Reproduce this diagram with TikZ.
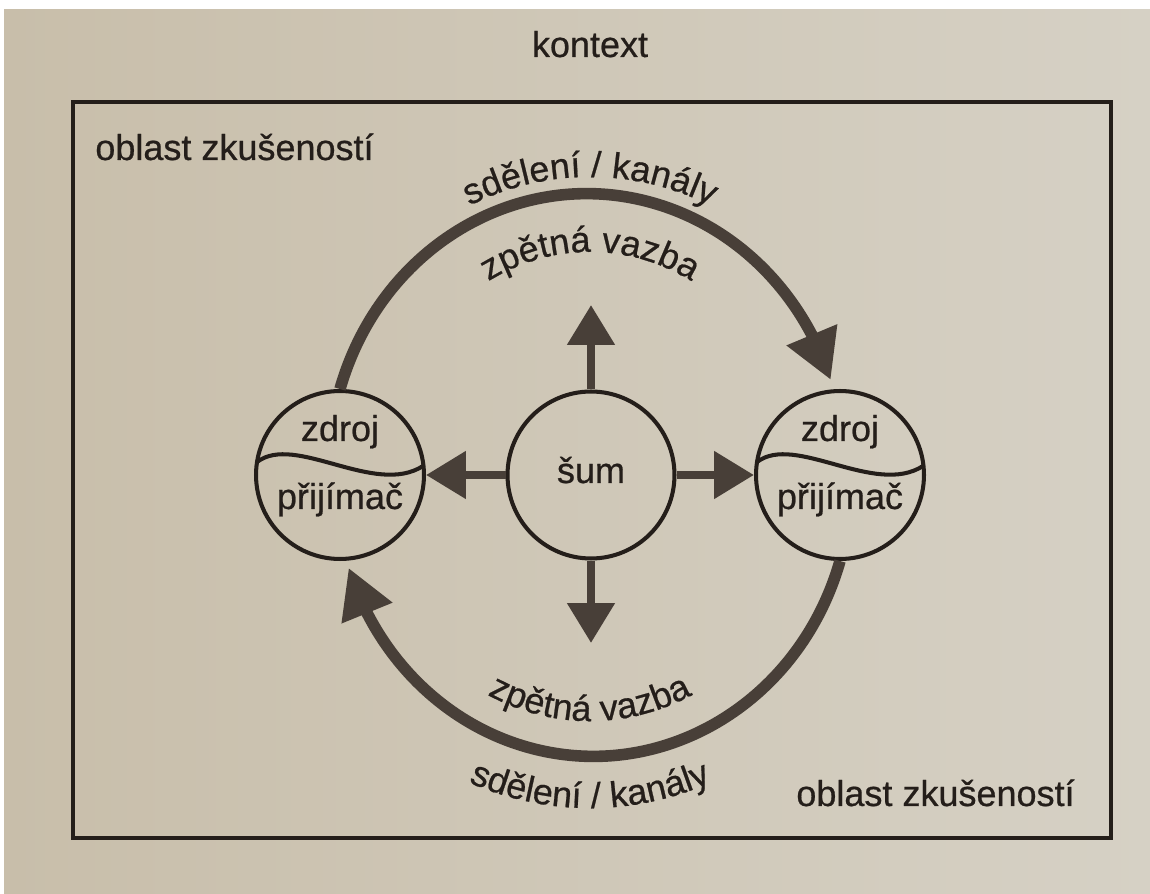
\documentclass[tikz,border=0pt]{standalone}
\usepackage{fontspec}
\setmainfont{Liberation Sans}
\newfontfamily\heavysans{Liberation Sans}[FakeBold=0.6]
\usetikzlibrary{arrows.meta,bending,decorations.text,calc}
\definecolor{paperL}{RGB}{200,190,170}
\definecolor{paperR}{RGB}{214,209,197}
\definecolor{ink}{RGB}{36,30,26}
\definecolor{halftone}{RGB}{72,63,56}
\newcommand\dfont{\heavysans\fontsize{20.5pt}{24pt}\selectfont}
\begin{document}
\begin{tikzpicture}[x=0.02cm,y=0.02cm,
  lbl/.style={font=\dfont, text=ink, inner sep=0pt},
  ring/.style={circle, draw=ink, line width=2.3pt, minimum size=3.36cm, inner sep=0pt},
  wave/.style={draw=ink, line width=2.3pt},
  frame/.style={draw=ink, line width=2.55pt},
  bigarc/.style={draw=halftone, line width=6.6pt, -{Triangle[length=27.8pt,width=29.5pt,flex]}},
  noise/.style={draw=halftone, line width=5pt, -{Triangle[length=22.7pt,width=26pt]}},
  arctext/.style={decorate, decoration={text along path, text align=center, text color=ink}}
]
% background
\fill[white] (0,0) rectangle (1150,893);
\shade[left color=paperL, right color=paperR] (4,0) rectangle (1150,883);
\useasboundingbox (0,0) rectangle (1150,893);

% frame
\draw[frame] (73,55) rectangle (1111,791);
\node[lbl, anchor=base] (ctx) at (590,836) {kontext};
\node[lbl, anchor=base west] (ob1) at (95,733) {oblast zkušeností};
\node[lbl, anchor=base east] (ob2) at (1075,87) {oblast zkušeností};

% circles
\node[ring] (src1) at (340,418) {};
\node[ring] (src2) at (840,418) {};
\node[ring, minimum size=3.34cm] (sum) at (591,418) {};

\draw[wave] ($(src1)+(-83,13)$) .. controls ($(src1)+(-45,42)$) and ($(src1)+(35,-22)$) .. ($(src1)+(83,9)$);
\draw[wave] ($(src2)+(-83,13)$) .. controls ($(src2)+(-45,42)$) and ($(src2)+(35,-22)$) .. ($(src2)+(83,9)$);

\node[lbl, anchor=base] (z1) at ($(src1)+(0,34)$) {zdroj};
\node[lbl, anchor=base] (p1) at ($(src1)+(0,-34)$) {přijímač};
\node[lbl, anchor=base] (z2) at ($(src2)+(0,34)$) {zdroj};
\node[lbl, anchor=base] (p2) at ($(src2)+(0,-34)$) {přijímač};
\node[lbl, anchor=base] (s) at ($(sum)+(0,-8)$) {šum};

% noise arrows
\coordinate (nUp) at (591,588);
\coordinate (nDn) at (591,250);
\draw[noise] (sum) -- (nUp);
\draw[noise] (sum) -- (nDn);
\draw[noise] (sum.west) -- (src1.east);
\draw[noise] (sum.east) -- (src2.west);

% big arcs
\draw[bigarc] (src1.north) arc[start angle=163, end angle=19, x radius=258, y radius=276];
\draw[bigarc] (src2.south) arc[start angle=-17, end angle=-161.5, x radius=258, y radius=276];

% curved labels
\path[arctext, decoration={text={|\dfont|sdělení / kanály}}]
  ($(590,418)+(170:281 and 298)$) arc[start angle=170, end angle=10, x radius=281, y radius=298];
\path[arctext, decoration={text={|\dfont|zpětná vazba}}]
  ($(590,418)+(165:205 and 223)$) arc[start angle=165, end angle=15, x radius=205, y radius=223];
\path[arctext, decoration={text={|\dfont|zpětná vazba}}]
  ($(590,418)+(195:228 and 246)$) arc[start angle=195, end angle=345, x radius=228, y radius=246];
\path[arctext, decoration={text={|\dfont|sdělení / kanály}}]
  ($(590,418)+(200:315 and 333)$) arc[start angle=200, end angle=340, x radius=315, y radius=333];
\end{tikzpicture}
\end{document}
